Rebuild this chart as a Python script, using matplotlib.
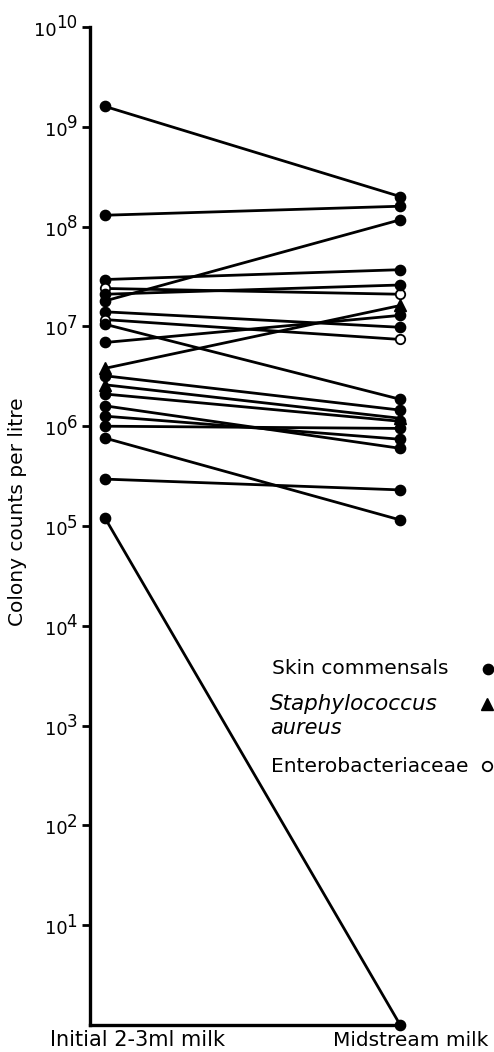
import matplotlib
matplotlib.use("Agg")
import matplotlib.pyplot as plt
import numpy as np

# colony counts per litre, initial 2-3 ml milk -> midstream milk
initial = [1.6e9, 1.3e8, 2.95e7, 2.4e7, 2.1e7, 1.8e7, 1.4e7, 1.17e7, 1.05e7, 6.9e6,
           3.8e6, 3.2e6, 2.6e6, 2.1e6, 1.6e6, 1.26e6, 1.0e6, 7.6e5, 2.95e5, 1.2e5]
midstream = [2.0e8, 1.6e8, 3.7e7, 2.1e7, 2.6e7, 1.17e8, 9.8e6, 7.4e6, 1.86e6, 1.29e7,
             1.62e7, 1.45e6, 1.2e6, 1.12e6, 6.0e5, 7.4e5, 9.5e5, 1.15e5, 2.3e5, 1.0]
organism = ['skin', 'skin', 'skin', 'entero', 'skin', 'skin', 'skin', 'entero', 'skin', 'skin',
            'staph', 'skin', 'staph', 'skin', 'skin', 'skin', 'skin', 'skin', 'skin', 'skin']

exponents = list(range(1, 11))
x_labels = ['Initial 2-3ml milk', 'Midstream milk']

styles = {
    'skin': dict(marker='o', markersize=7.4, markerfacecolor='black', markeredgecolor='black'),
    'staph': dict(marker='^', markersize=8.5, markerfacecolor='black', markeredgecolor='black'),
    'entero': dict(marker='o', markersize=6.8, markerfacecolor='white', markeredgecolor='black',
                   markeredgewidth=1.3),
}

fig = plt.figure(figsize=(4.94, 10.52), dpi=100)
ax = fig.add_axes([90 / 494, 27 / 1052, 312 / 494, 998 / 1052])

for a, b, kind in zip(initial, midstream, organism):
    ax.plot([0, 1], [a, b], color='black', lw=2.0, zorder=2, solid_capstyle='round')
for a, b, kind in zip(initial, midstream, organism):
    ax.plot([0, 1], [a, b], linestyle='none', zorder=3, clip_on=False, **styles[kind])

ax.set_yscale('log')
ax.set_ylim(1, 1e10)
ax.set_xlim(-0.051, 1.006)
ax.set_yticks([10.0 ** k for k in exponents])
ax.set_yticklabels([])
ax.yaxis.set_minor_locator(matplotlib.ticker.NullLocator())
ax.tick_params(axis='y', direction='out', length=6, width=2)
ax.set_xticks([])

for s in ['top', 'right']:
    ax.spines[s].set_visible(False)
ax.spines['left'].set_linewidth(2.4)
ax.spines['bottom'].set_linewidth(2.4)

# tick labels "10" with a big superscript, right edge near x=77px
renderer = fig.canvas.get_renderer()
ytr = ax.get_yaxis_transform()
for k in exponents:
    e = ax.annotate(str(k), xy=(0, 10.0 ** k), xycoords=ytr,
                    xytext=(-13 * 0.72, 3.5 * 0.72), textcoords='offset points',
                    ha='right', va='center', fontsize=12)
    w = e.get_window_extent(renderer).width
    ax.annotate('10', xy=(0, 10.0 ** k), xycoords=ytr,
                xytext=(-(13 + w - 1) * 0.72, -4 * 0.72), textcoords='offset points',
                ha='right', va='center', fontsize=13)

fig.text(18 / 494, 1 - 512 / 1052, 'Colony counts per litre', rotation=90,
         ha='center', va='center', fontsize=14.5)
fig.text(137 / 494, 1 - 1040 / 1052, x_labels[0], ha='center', va='center', fontsize=15)
fig.text(411 / 494, 1 - 1040 / 1052, x_labels[1], ha='center', va='center', fontsize=14.5)

# legend drawn as text and markers
fig.text(272 / 494, 1 - 668 / 1052, 'Skin commensals', ha='left', va='center', fontsize=14.5)
fig.text(270 / 494, 1 - 704 / 1052, 'Staphylococcus', ha='left', va='center', fontsize=15.5,
         style='italic')
fig.text(270 / 494, 1 - 728 / 1052, 'aureus', ha='left', va='center', fontsize=15,
         style='italic')
fig.text(271 / 494, 1 - 766 / 1052, 'Enterobacteriaceae', ha='left', va='center', fontsize=14.5)
leg_ax = fig.add_axes([0, 0, 1, 1], facecolor='none')
leg_ax.set_xlim(0, 494)
leg_ax.set_ylim(1052, 0)
leg_ax.axis('off')
leg_ax.plot([488], [669], linestyle='none', clip_on=False, **styles['skin'])
leg_ax.plot([487], [704], linestyle='none', clip_on=False, **styles['staph'])
leg_ax.plot([487], [766], linestyle='none', clip_on=False, **styles['entero'])

fig.savefig('out.png', dpi=100)
